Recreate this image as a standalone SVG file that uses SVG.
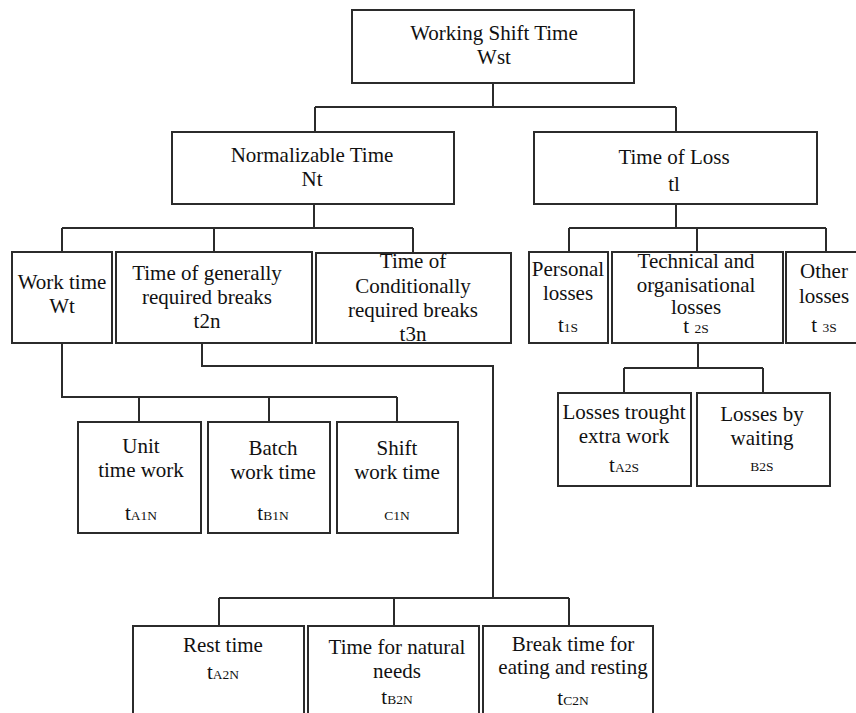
<svg xmlns="http://www.w3.org/2000/svg" width="856" height="713" viewBox="0 0 856 713">
<style>
.box{fill:#fff;stroke:#2b2b2b;stroke-width:2}
.c{fill:none;stroke:#2b2b2b;stroke-width:2}
text{font-family:"Liberation Serif","Times New Roman",serif;font-size:21px;fill:#111;text-anchor:middle}
.s{font-size:13.5px}
</style>
<rect width="856" height="713" fill="#fff"/>
<g id="connectors" class="c">
<path d="M493 83V107M315 107H676M315 107V132M676 107V132"/>
<path d="M314 204V228M62 228H413M62 228V252M214 228V252M413 228V253"/>
<path d="M676 204V228M569 228H826M569 228V252M697 228V252M826 228V252"/>
<path d="M62 343V397H397M139 397V422M269 397V422M397 397V422"/>
<path d="M202 343V366H493V598M219 598H569M219 598V626M394 598V626M569 598V626"/>
<path d="M698 343V368M624 368H763M624 368V393M763 368V393"/>
</g>
<g id="wst"><rect class="box" x="352" y="10" width="282" height="73"/><text x="494" y="40">Working Shift Time</text><text x="494" y="64">Wst</text></g>
<g id="nt"><rect class="box" x="172" y="132" width="282" height="72"/><text x="312" y="162">Normalizable Time</text><text x="312" y="186">Nt</text></g>
<g id="tl"><rect class="box" x="534" y="132" width="283" height="72"/><text x="674" y="164">Time of Loss</text><text x="674" y="191">tl</text></g>
<g id="wt"><rect class="box" x="12" y="252" width="100" height="91"/><text x="62" y="289">Work time</text><text x="62" y="313">Wt</text></g>
<g id="t2n"><rect class="box" x="116" y="252" width="196" height="91"/><text x="207" y="280">Time of generally</text><text x="207" y="304">required breaks</text><text x="207" y="328">t2n</text></g>
<g id="t3n"><rect class="box" x="316" y="253" width="195" height="90"/><text x="413" y="268">Time of</text><text x="413" y="293">Conditionally</text><text x="413" y="317">required breaks</text><text x="413" y="341">t3n</text></g>
<g id="t1s"><rect class="box" x="529" y="252" width="79" height="91"/><text x="568" y="276">Personal</text><text x="568" y="300">losses</text><text x="568" y="332">t<tspan class="s">1S</tspan></text></g>
<g id="t2s"><rect class="box" x="612" y="252" width="171" height="91"/><text x="696" y="268">Technical and</text><text x="696" y="292">organisational</text><text x="696" y="314">losses</text><text x="696" y="333">t <tspan class="s">2S</tspan></text></g>
<g id="t3s"><rect class="box" x="786" y="252" width="80" height="91"/><text x="824" y="278">Other</text><text x="824" y="303">losses</text><text x="824" y="332">t <tspan class="s">3S</tspan></text></g>
<g id="ta1n"><rect class="box" x="78" y="422" width="123" height="111"/><text x="141" y="453">Unit</text><text x="141" y="477">time work</text><text x="141" y="520">t<tspan class="s">A1N</tspan></text></g>
<g id="tb1n"><rect class="box" x="208" y="422" width="122" height="111"/><text x="273" y="455">Batch</text><text x="273" y="479">work time</text><text x="273" y="520">t<tspan class="s">B1N</tspan></text></g>
<g id="tc1n"><rect class="box" x="337" y="422" width="121" height="111"/><text x="397" y="455">Shift</text><text x="397" y="479">work time</text><text class="s" x="397" y="520">C1N</text></g>
<g id="ta2s"><rect class="box" x="558" y="393" width="133" height="93"/><text x="624" y="419">Losses trought</text><text x="624" y="443">extra work</text><text x="624" y="472">t<tspan class="s">A2S</tspan></text></g>
<g id="tb2s"><rect class="box" x="697" y="393" width="133" height="93"/><text x="762" y="421">Losses by</text><text x="762" y="445">waiting</text><text class="s" x="762" y="471">B2S</text></g>
<g id="ta2n"><rect class="box" x="133" y="626" width="171" height="100"/><text x="223" y="652">Rest time</text><text x="223" y="679">t<tspan class="s">A2N</tspan></text></g>
<g id="tb2n"><rect class="box" x="308" y="626" width="171" height="100"/><text x="397" y="654">Time for natural</text><text x="397" y="678">needs</text><text x="397" y="704">t<tspan class="s">B2N</tspan></text></g>
<g id="tc2n"><rect class="box" x="483" y="626" width="170" height="100"/><text x="573" y="651">Break time for</text><text x="573" y="674">eating and resting</text><text x="573" y="705">t<tspan class="s">C2N</tspan></text></g>
</svg>
